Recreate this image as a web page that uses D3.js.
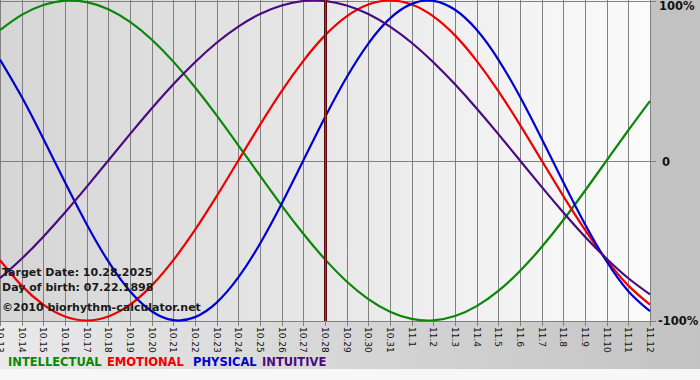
<!DOCTYPE html>
<html><head><meta charset="utf-8">
<script src="https://cdn.jsdelivr.net/npm/d3@7/dist/d3.min.js"></script>
<style>html,body{margin:0;padding:0;background:#f6f6f6;}svg{display:block;}</style>
</head><body><svg id="c" width="700" height="380"></svg>
<script>
const dates = ["10.13","10.14","10.15","10.16","10.17","10.18","10.19","10.20","10.21","10.22","10.23","10.24","10.25","10.26","10.27","10.28","10.29","10.30","10.31","11.1","11.2","11.3","11.4","11.5","11.6","11.7","11.8","11.9","11.10","11.11","11.12"];
const intellectual = [0.815,0.910,0.972,0.999,0.990,0.945,0.866,0.756,0.618,0.458,0.282,0.095,-0.095,-0.282,-0.458,-0.618,-0.756,-0.866,-0.945,-0.990,-0.999,-0.972,-0.910,-0.815,-0.690,-0.541,-0.372,-0.189,0,0.189,0.372];
const emotional = [-0.623,-0.782,-0.901,-0.975,-1,-0.975,-0.901,-0.782,-0.623,-0.434,-0.223,0,0.223,0.434,0.623,0.782,0.901,0.975,1,0.975,0.901,0.782,0.623,0.434,0.223,0,-0.223,-0.434,-0.623,-0.782,-0.901];
const physical = [0.631,0.398,0.136,-0.136,-0.398,-0.631,-0.817,-0.942,-0.998,-0.979,-0.888,-0.731,-0.520,-0.270,0,0.270,0.520,0.731,0.888,0.979,0.998,0.942,0.817,0.631,0.398,0.136,-0.136,-0.398,-0.631,-0.817,-0.942];
const intuitive = [-0.736,-0.614,-0.476,-0.325,-0.165,0,0.165,0.325,0.476,0.614,0.736,0.837,0.916,0.969,0.997,0.997,0.969,0.916,0.837,0.736,0.614,0.476,0.325,0.165,0,-0.165,-0.325,-0.476,-0.614,-0.736,-0.837];
const yTicks = [1, 0, -1];
const yTickLabels = ["100%", "0", "-100%"];
const targetDate = "10.28";
const infoLines = ["Target Date: 10.28.2025", "Day of birth: 07.22.1898", "\u00a92010 biorhythm-calculator.net"];
const legendNames = ["INTELLECTUAL", "EMOTIONAL", "PHYSICAL", "INTUITIVE"];

const colors = {INTELLECTUAL:"#0a870a", EMOTIONAL:"#ee0000", PHYSICAL:"#0000d0", INTUITIVE:"#4b0a80"};
const seriesList = [
  {name:"INTELLECTUAL", values:intellectual},
  {name:"EMOTIONAL", values:emotional},
  {name:"PHYSICAL", values:physical},
  {name:"INTUITIVE", values:intuitive}
];

const svg = d3.select("#c");
const W = 700, H = 380;
const plotR = 651, plotB = 321;
const x = d3.scaleLinear().domain([0, dates.length - 1]).range([0, 650]);
const y = d3.scaleLinear().domain([-1, 1]).range([320.5, 0.5]);

const defs = svg.append("defs");
const g1 = defs.append("linearGradient").attr("id","plotbg").attr("x1","0").attr("x2","1").attr("y1","0").attr("y2","0");
g1.append("stop").attr("offset","0").attr("stop-color","#d5d5d5");
g1.append("stop").attr("offset","1").attr("stop-color","#fbfbfb");
const g2 = defs.append("linearGradient").attr("id","botbg").attr("x1","0").attr("x2","1").attr("y1","0").attr("y2","0");
g2.append("stop").attr("offset","0").attr("stop-color","#e9e9e9");
g2.append("stop").attr("offset","1").attr("stop-color","#c3c3c3");

svg.append("rect").attr("x",0).attr("y",0).attr("width",W).attr("height",H).attr("fill","#f7f7f7");
svg.append("rect").attr("x",0).attr("y",plotB).attr("width",W).attr("height",369-plotB).attr("fill","url(#botbg)");
svg.append("rect").attr("x",plotR).attr("y",0).attr("width",W-plotR).attr("height",plotB).attr("fill","#c2c2c2");
svg.append("rect").attr("x",0).attr("y",0).attr("width",plotR).attr("height",plotB).attr("fill","url(#plotbg)");

// vertical grid lines and ticks
const grid = svg.append("g").attr("stroke","#808080").attr("stroke-width",1);
dates.forEach((d,i)=>{
  const xx = Math.round(x(i)) + 0.5;
  grid.append("line").attr("x1",xx).attr("x2",xx).attr("y1",0).attr("y2",plotB+5);
});
// horizontal lines: top, zero, bottom
yTicks.forEach(v=>{
  const yy = Math.round(y(v)) + 0.5;
  grid.append("line").attr("x1",0).attr("x2",plotR+5).attr("y1",yy).attr("y2",yy);
});

// right y labels
svg.append("g").selectAll("text").data(yTicks).join("text")
  .attr("x", (d)=> d===0 ? 662 : (d>0 ? 659 : 658))
  .attr("y", d=> y(d) + (d>0 ? 9 : (d<0 ? 4 : 5)))
  .attr("font-family","DejaVu Sans, Verdana, sans-serif").attr("font-weight","bold").attr("font-size", 11.5)
  .attr("fill","#111")
  .text((d,i)=>yTickLabels[i]);

// x labels rotated
svg.append("g").selectAll("text").data(dates).join("text")
  .attr("transform",(d,i)=>`translate(${Math.round(x(i)) - 3},327) rotate(90)`)
  .attr("font-family","DejaVu Sans, Verdana, sans-serif").attr("font-size", 9)
  .attr("fill","#111")
  .text(d=>d);

// curves
const line = d3.line().x((d,i)=>x(i)).y(d=>y(d)).curve(d3.curveNatural);
const clip = defs.append("clipPath").attr("id","pclip");
clip.append("rect").attr("x",0).attr("y",-2).attr("width",plotR+1).attr("height",plotB+3);
const curves = svg.append("g").attr("clip-path","url(#pclip)");
seriesList.forEach(s=>{
  curves.append("path").attr("d", line(s.values)).attr("fill","none")
    .attr("stroke", colors[s.name]).attr("stroke-width",2.2).attr("stroke-linejoin","round");
});

// target date line
const ti = dates.indexOf(targetDate);
const tx = Math.round(x(ti)) + 0.5;
svg.append("line").attr("x1",tx).attr("x2",tx).attr("y1",0).attr("y2",plotB).attr("stroke","#5a0c0c").attr("stroke-width",3);
svg.append("line").attr("x1",tx).attr("x2",tx).attr("y1",0).attr("y2",plotB).attr("stroke","#a83434").attr("stroke-width",1);

// info text
svg.append("g").selectAll("text").data(infoLines).join("text")
  .attr("x",2).attr("y",(d,i)=> [276, 291, 311][i])
  .attr("font-family","DejaVu Sans, Verdana, sans-serif").attr("font-weight","bold").attr("font-size",11)
  .attr("fill","#1a1a1a")
  .text(d=>d);

// legend
const legX = [8, 107, 193, 262];
svg.append("g").selectAll("text").data(legendNames).join("text")
  .attr("x",(d,i)=>legX[i]).attr("y",366)
  .attr("font-family","DejaVu Sans, Verdana, sans-serif").attr("font-weight","bold").attr("font-size",11.5)
  .attr("fill",d=>colors[d])
  .text(d=>d);
</script>
</body></html>
